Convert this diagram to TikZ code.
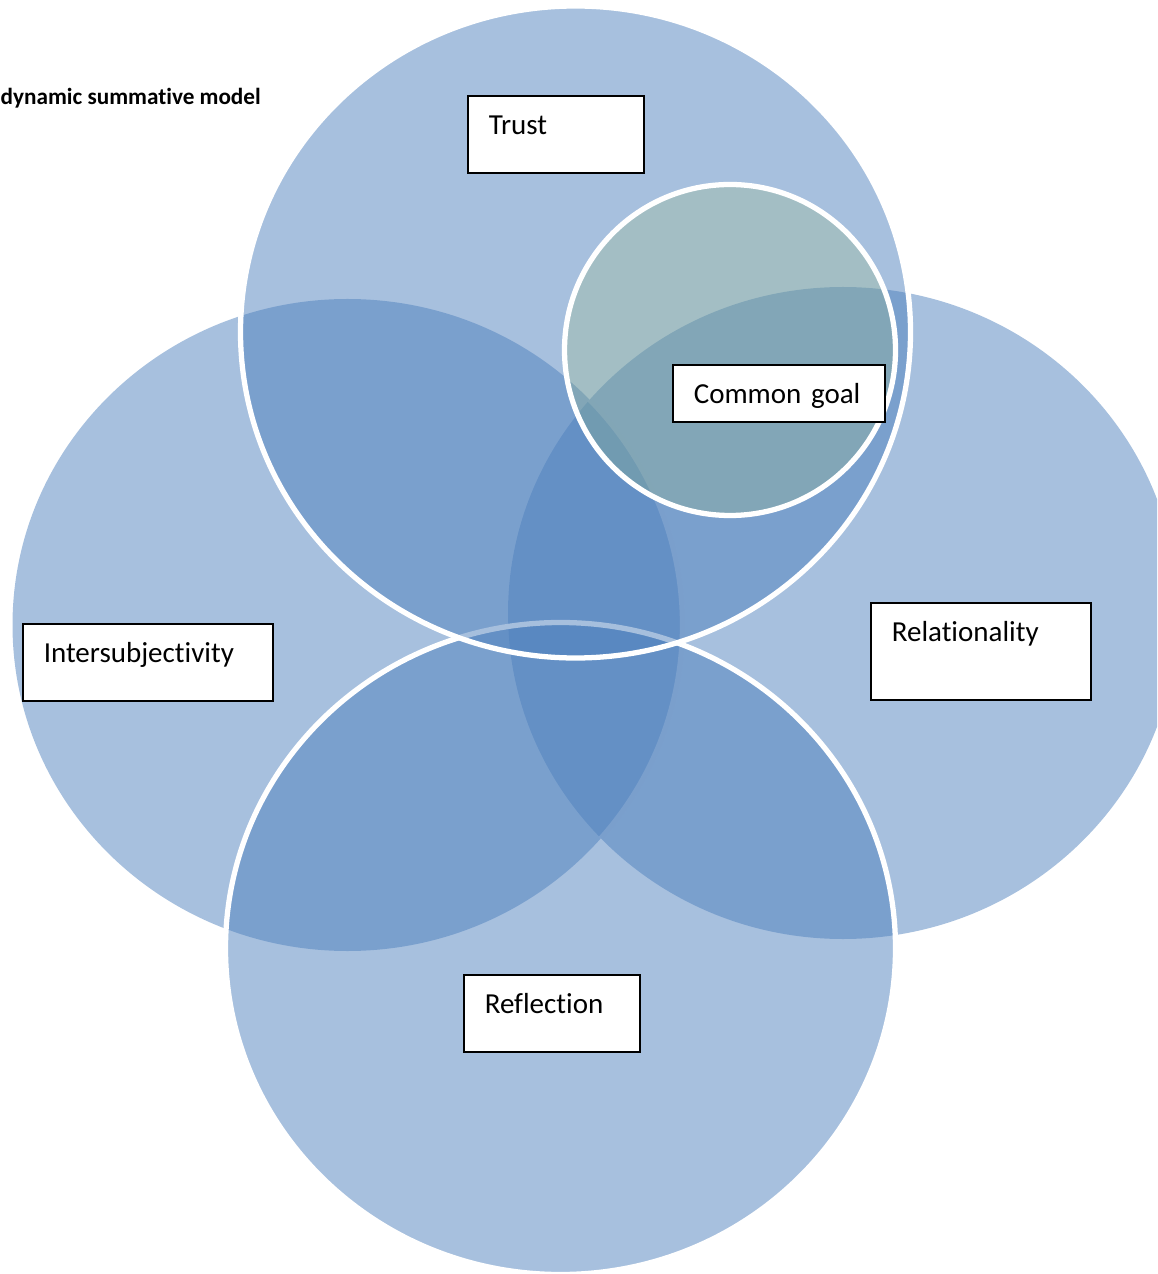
\documentclass[tikz,border=0pt]{standalone}
\usepackage{fontspec}
\setmainfont{Carlito}[Ligatures=NoCommon]
\definecolor{vennblue}{RGB}{79,129,189}
\definecolor{goalgreen}{RGB}{155,187,120}

\begin{document}
\begin{tikzpicture}[
		venn/.style={fill=vennblue, fill opacity=0.5},
		rim/.style={draw=white, line width=1.5pt},
		box/.style={draw, line width=0.45pt, fill=white, anchor=north west, inner xsep=0.21cm, inner ysep=0pt, text height=0.39cm, align=left, font=\fontsize{8.25}{10}\selectfont}
	]
		\useasboundingbox (0, 0) rectangle (11.57, -12.74);
		\clip (0, 0) rectangle (11.57, -12.74);
		\fill[venn] (3.475, -6.25) ellipse (3.35 and 3.26);
		\begin{scope}
			\clip (8.43, -6.13) ellipse (3.35 and 3.26);
			\draw[rim] (3.475, -6.25) ellipse (3.35 and 3.26);
		\end{scope}
		\fill[venn] (8.43, -6.13) ellipse (3.35 and 3.26);
		\filldraw[venn, rim] (5.605, -9.485) ellipse (3.35 and 3.26);
		\filldraw[venn, rim] (5.755, -3.32) ellipse (3.35 and 3.26);
		\filldraw[rim, fill=goalgreen, fill opacity=0.25] (7.30, -3.50) circle (1.655);
		\node[anchor=base west, inner sep=0pt, font=\bfseries\fontsize{6.6}{8}\selectfont] (title) at (0, -1.05) {dynamic summative model};
		\node[box, text width=1.34cm, text depth=0.38cm] (trust) at (4.67, -0.95) {Trust};
		\node[box, text width=1.70cm, text depth=0.18cm] (goal) at (6.72, -3.64) {Common goal};
		\node[box, text width=2.08cm, text depth=0.38cm] (inter) at (0.22, -6.23) {Intersubjectivity};
		\node[box, text width=1.78cm, text depth=0.58cm] (relation) at (8.70, -6.02) {Relationality};
		\node[box, text width=1.34cm, text depth=0.38cm] (reflect) at (4.63, -9.74) {Reflection};
	\end{tikzpicture}
\end{document}
